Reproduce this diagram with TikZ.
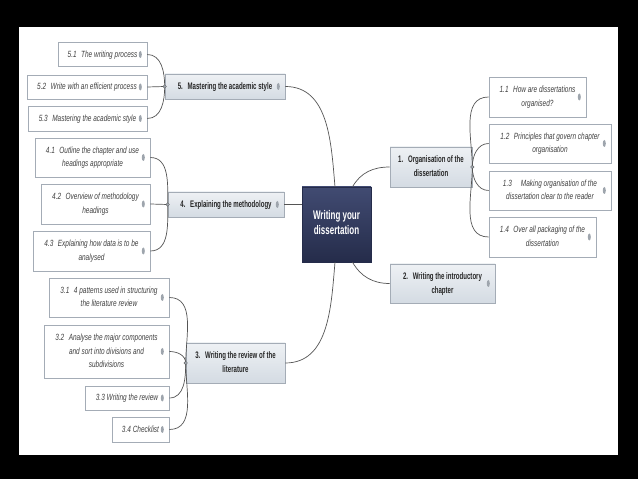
\documentclass[tikz,border=0pt]{standalone}
\usepackage{fontspec}
\setmainfont{Liberation Sans}
\newfontfamily\narrowfont[FakeStretch=0.72]{Liberation Sans}
\newfontfamily\slimfont[FakeStretch=0.64]{Liberation Sans}
\usetikzlibrary{shadows}

\definecolor{navytop}{HTML}{414B72}
\definecolor{navybot}{HTML}{252C4A}
\definecolor{topictop}{HTML}{EEF1F4}
\definecolor{topicbot}{HTML}{D4DBE3}
\definecolor{boxline}{HTML}{A4ACB6}
\definecolor{linkgray}{HTML}{555555}
\definecolor{clipgray}{HTML}{9EA5AD}

% text of a box, room left for the clip icon
\newcommand{\cliptext}[2][10pt]{\begin{tabular}{@{}c@{}}#2\end{tabular}\hspace{#1}}
\newcommand{\plaintext}[1]{\begin{tabular}{@{}c@{}}#1\end{tabular}}

\begin{document}
\begin{tikzpicture}[x=1pt,y=1pt,
  sub/.style={draw=boxline,fill=white,line width=0.6pt,inner sep=0pt,
    font=\narrowfont\itshape\fontsize{9}{13.5}\selectfont,text=black!75,
    drop shadow={shadow xshift=1pt,shadow yshift=-1pt,fill=black!30,opacity=0.6}},
  topic/.style={draw=boxline,top color=topictop,bottom color=topicbot,line width=0.6pt,
    inner sep=0pt,font=\slimfont\bfseries\fontsize{9.5}{14}\selectfont,text=black!85,
    drop shadow={shadow xshift=1pt,shadow yshift=-1pt,fill=black!30,opacity=0.6}},
  root/.style={top color=navytop,bottom color=navybot,draw=navybot,inner sep=0pt,
    font=\slimfont\bfseries\fontsize{12.5}{15}\selectfont,text=white},
  link/.style={draw=linkgray,line width=0.7pt},
  joint/.style={fill=clipgray,draw=linkgray,line width=0.3pt}]

  % frame
  \fill[black] (0,0) rectangle (638,479);
  \fill[white] (19,24) rectangle (618,452);

  \node[root,minimum width=69pt,minimum height=75pt] (ctr) at (336.5,254.5)
    {\plaintext{Writing your\\dissertation}};

  \node[topic,minimum width=120pt,minimum height=25pt] (m5) at (225,392.5)
    {\cliptext{5.\enspace Mastering the academic style}};
  \node[topic,minimum width=116pt,minimum height=25pt] (m4) at (226,274.5)
    {\cliptext{4.\enspace Explaining the methodology}};
  \node[topic,minimum width=99pt,minimum height=40pt] (m3) at (235.5,116)
    {\plaintext{3.\enspace Writing the review of the\\literature}};
  \node[topic,minimum width=82pt,minimum height=40pt] (m1) at (431,312)
    {\plaintext{1.\enspace Organisation of the\\dissertation}};
  \node[topic,minimum width=105pt,minimum height=39pt] (m2) at (442.5,195.5)
    {\cliptext{2.\enspace Writing the introductory\\chapter}};

  \node[sub,minimum width=89pt,minimum height=24pt] (s51) at (102.5,424.5)
    {\cliptext{5.1\enspace The writing process}};
  \node[sub,minimum width=120pt,minimum height=24pt] (s52) at (87,392)
    {\cliptext{5.2\enspace Write with an efficient process}};
  \node[sub,minimum width=119pt,minimum height=25pt] (s53) at (87.5,360.5)
    {\cliptext{5.3\enspace Mastering the academic style}};

  \node[sub,minimum width=115pt,minimum height=39pt] (s41) at (92.5,321.5)
    {\cliptext{4.1\enspace Outline the chapter and use\\headings appropriate}};
  \node[sub,minimum width=109pt,minimum height=40pt] (s42) at (95.5,275)
    {\cliptext{4.2\enspace Overview of methodology\\headings}};
  \node[sub,minimum width=117pt,minimum height=40pt] (s43) at (91.5,228)
    {\cliptext{4.3\enspace Explaining how data is to be\\analysed}};

  \node[sub,minimum width=120pt,minimum height=39pt] (s31) at (109,181.5)
    {\cliptext{3.1\enspace 4 patterns used in structuring\\the literature review}};
  \node[sub,minimum width=125pt,minimum height=53pt] (s32) at (106.5,127.5)
    {\cliptext{3.2\enspace Analyse the major components\\and sort into divisions and\\subdivisions}};
  \node[sub,minimum width=84pt,minimum height=24pt] (s33) at (127,81)
    {\cliptext[13pt]{3.3 Writing the review}};
  \node[sub,minimum width=57pt,minimum height=25pt] (s34) at (140.5,49.5)
    {\cliptext[14pt]{3.4 Checklist}};

  \node[sub,minimum width=97pt,minimum height=40pt] (s11) at (537.5,382)
    {\cliptext{1.1\enspace How are dissertations\\organised?}};
  \node[sub,minimum width=122pt,minimum height=39pt] (s12) at (550,335.5)
    {\cliptext{1.2\enspace Principles that govern chapter\\organisation}};
  \node[sub,minimum width=122pt,minimum height=39pt] (s13) at (550,288.5)
    {\cliptext{1.3\quad Making organisation of the\\dissertation clear to the reader}};
  \node[sub,minimum width=107pt,minimum height=40pt] (s14) at (542.5,242)
    {\cliptext{1.4\enspace Over all packaging of the\\dissertation}};

  % clip icons
  \foreach \n in {s51,s52,s53,s41,s42,s43,s31,s32,s33,s34,s11,s12,s13,s14,m5,m4,m2}
    \fill[clipgray] ([xshift=-7pt]\n.east) ellipse (1.5pt and 3.5pt);

  % main branches
  \draw[link] ([xshift=-1.5pt]ctr.north) to[out=95,in=0] (m5.east);
  \draw[link] (m4.east) -- (m4.east -| ctr.west);
  \draw[link] ([xshift=-1.5pt]ctr.south) to[out=-95,in=0] (m3.east);
  \draw[link] ([xshift=16pt]ctr.north) to[out=60,in=180] (m1.west);
  \draw[link] ([xshift=16pt]ctr.south) to[out=-60,in=180] (m2.west);

  % sub branches
  \draw[link] (s51.east) to[out=0,in=90] (m5.west);
  \draw[link] (s52.east) -- (m5.west);
  \draw[link] (s53.east) to[out=0,in=-90] (m5.west);
  \draw[link] (s41.east) to[out=0,in=90] (m4.west);
  \draw[link] (s42.east) -- (m4.west);
  \draw[link] (s43.east) to[out=0,in=-90] (m4.west);
  \draw[link] (s31.east) to[out=0,in=90] (m3.west);
  \draw[link] (s32.east) to[out=0,in=90] (m3.west);
  \draw[link] (s33.east) to[out=0,in=-90] (m3.west);
  \draw[link] (s34.east) to[out=0,in=-90] (m3.west);
  \draw[link] (m1.east) to[out=90,in=180] (s11.west);
  \draw[link] (m1.east) to[out=90,in=180] (s12.west);
  \draw[link] (m1.east) to[out=-90,in=180] (s13.west);
  \draw[link] (m1.east) to[out=-90,in=180] (s14.west);

  \foreach \j in {m5.west,m4.west,m3.west,m1.east}
    \filldraw[joint] (\j) circle (1.8pt);
\end{tikzpicture}
\end{document}
